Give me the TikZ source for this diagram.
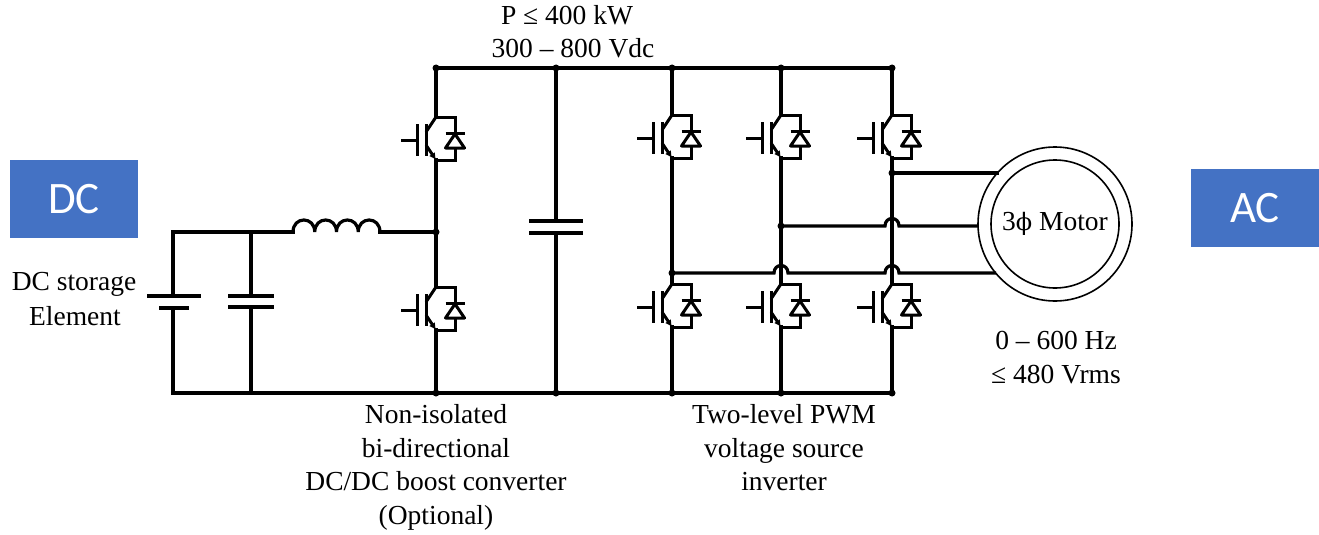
\documentclass[tikz,border=0pt]{standalone}
\usepackage{fontspec}
\setmainfont{Liberation Serif}
\newfontfamily\calib{Carlito}
\newfontfamily\dvserif{DejaVu Serif}
\usetikzlibrary{arrows.meta}
\definecolor{boxblue}{HTML}{4472C4}
\begin{document}
\begin{tikzpicture}[x=1pt,y=-1pt,
  wire/.style={line width=3.2pt, line cap=rect},
  sym/.style={line width=3pt},
  dot/.style={circle, fill, inner sep=0pt, minimum size=7pt},
  lbl/.style={font=\fontsize{27.5}{33}\selectfont, anchor=base, inner sep=0pt},
  blk/.style={fill=boxblue, text=white, minimum width=128pt, minimum height=78pt, inner sep=0pt, font=\calib\fontsize{45}{54}\selectfont},
  igbt/.pic={
    \coordinate (-c) at (0,-23);
    \coordinate (-e) at (0,20);
    \draw[sym] (0,-23) -- (19,-23) -- (19,-7);
    \draw[sym] (19,8) -- (19,20) -- (0,20);
    \draw[sym] (9.5,-7) -- (28.5,-7);
    \draw[sym, line join=round] (9.5,8) -- (28.5,8) -- (19,-6) -- cycle;
    \draw[sym] (-35,0) -- (-19,0);
    \draw[sym] (-19,-16) -- (-19,16);
    \draw[sym] (-10,-16) -- (-10,16);
    \draw[sym] (-10,-8) -- (0,-23);
    \draw[sym, -{Latex[length=7pt,width=7pt]}] (-10,5) -- (0,20);
  }]
\useasboundingbox (0,0) rectangle (1319,535);

% blue boxes
\node[blk] (dcbox) at (74,199) {DC};
\node[blk] (acbox) at (1255,208) {AC};

% junction coordinates
\coordinate (l0) at (173,232);
\coordinate (lc) at (251,232);
\coordinate (Ls) at (293,232);
\coordinate (Le) at (380,232);
\coordinate (b0) at (173,393);
\coordinate (bc) at (251,393);
\node[dot] (m0) at (436,232) {};
\node[dot] (t1) at (436,68) {};
\node[dot] (t2) at (556,68) {};
\node[dot] (t3) at (672,68) {};
\node[dot] (t4) at (781,68) {};
\node[dot] (t5) at (892,68) {};
\node[dot] (b1) at (436,393) {};
\node[dot] (b2) at (556,393) {};
\node[dot] (b3) at (672,393) {};
\node[dot] (b4) at (781,393) {};
\node[dot] (b5) at (892,393) {};
\node[dot] (pA) at (672,273) {};
\node[dot] (pB) at (781,226) {};
\node[dot] (pC) at (892,173) {};

% rails
\draw[wire] (t1.center) -- (t5.center);
\draw[wire] (b0) -- (b5.center);

% battery
\draw[wire] (b0) -- (173,308);
\draw[wire] (l0) -- (173,296);
\draw[wire] (149,296) -- (199,296);
\draw[wire] (161,308) -- (187,308);
% input capacitor
\draw[wire] (lc) -- (251,296);
\draw[wire] (bc) -- (251,307);
\draw[wire] (230,296) -- (272,296);
\draw[wire] (230,307) -- (272,307);
% top wire and inductor
\draw[wire] (l0) -- (Ls);
\draw[wire, line cap=butt] (Ls) .. controls (293,216) and (314.75,216) .. (314.75,232)
  .. controls (314.75,216) and (336.5,216) .. (336.5,232)
  .. controls (336.5,216) and (358.25,216) .. (358.25,232)
  .. controls (358.25,216) and (380,216) .. (Le);
\draw[wire] (Le) -- (m0.center);

% boost leg
\pic (Q1) at (436,140) {igbt};
\pic (Q2) at (436,310) {igbt};
\draw[wire] (t1.center) -- (Q1-c);
\draw[wire] (Q1-e) -- (m0.center) -- (Q2-c);
\draw[wire] (Q2-e) -- (b1.center);

% DC link capacitor
\draw[wire] (t2.center) -- (556,221);
\draw[wire] (b2.center) -- (556,233);
\draw[wire] (531,221) -- (581,221);
\draw[wire] (531,233) -- (581,233);

% inverter legs
\pic (QA1) at (672,138) {igbt};
\pic (QA2) at (672,307) {igbt};
\pic (QB1) at (781,138) {igbt};
\pic (QB2) at (781,307) {igbt};
\pic (QC1) at (892,138) {igbt};
\pic (QC2) at (892,307) {igbt};
\draw[wire] (t3.center) -- (QA1-c);
\draw[wire] (QA1-e) -- (pA.center) -- (QA2-c);
\draw[wire] (QA2-e) -- (b3.center);
\draw[wire] (t4.center) -- (QB1-c);
\draw[wire] (QB1-e) -- (pB.center) -- (QB2-c);
\draw[wire] (QB2-e) -- (b4.center);
\draw[wire] (t5.center) -- (QC1-c);
\draw[wire] (QC1-e) -- (pC.center) -- (QC2-c);
\draw[wire] (QC2-e) -- (b5.center);

% motor
\node[circle, draw, line width=1.6pt, minimum size=154pt, inner sep=0pt] (motor) at (1055,224) {};
\node[circle, draw, line width=1.6pt, minimum size=128pt, inner sep=0pt,
      font=\fontsize{27.5}{33}\selectfont] (motorin) at (1055,224) {3{\dvserif\fontsize{24}{30}\selectfont ϕ} Motor};

% phase wires
\draw[wire] (pC.center) -- (pC -| motor.138.5);
\draw[wire] (pB.center) -- (885,226) .. controls (885,216) and (899,216) .. (899,226)
  -- (pB -| motor.181.5);
\draw[wire] (pA.center) -- (774,273) .. controls (774,263) and (788,263) .. (788,273)
  -- (885,273) .. controls (885,263) and (899,263) .. (899,273)
  -- (pA -| motor.219.5);

% labels
\node[lbl] (lp1) at (567,25) {P ≤ 400 kW};
\node[lbl] (lp2) at (573,57) {300 – 800 Vdc};
\node[lbl] (ls1) at (74,290) {DC storage};
\node[lbl] (ls2) at (75,325) {Element};
\node[lbl] (lb1) at (436,423.5) {Non-isolated};
\node[lbl] (lb2) at (436,457) {bi-directional};
\node[lbl] (lb3) at (436,490.5) {DC/DC boost converter};
\node[lbl] (lb4) at (436,524) {(Optional)};
\node[lbl] (li1) at (784,423.5) {Two-level PWM};
\node[lbl] (li2) at (784,457) {voltage source};
\node[lbl] (li3) at (784,490.5) {inverter};
\node[lbl] (lm1) at (1056,349) {0 – 600 Hz};
\node[lbl] (lm2) at (1056,383) {≤ 480 Vrms};
\end{tikzpicture}
\end{document}
